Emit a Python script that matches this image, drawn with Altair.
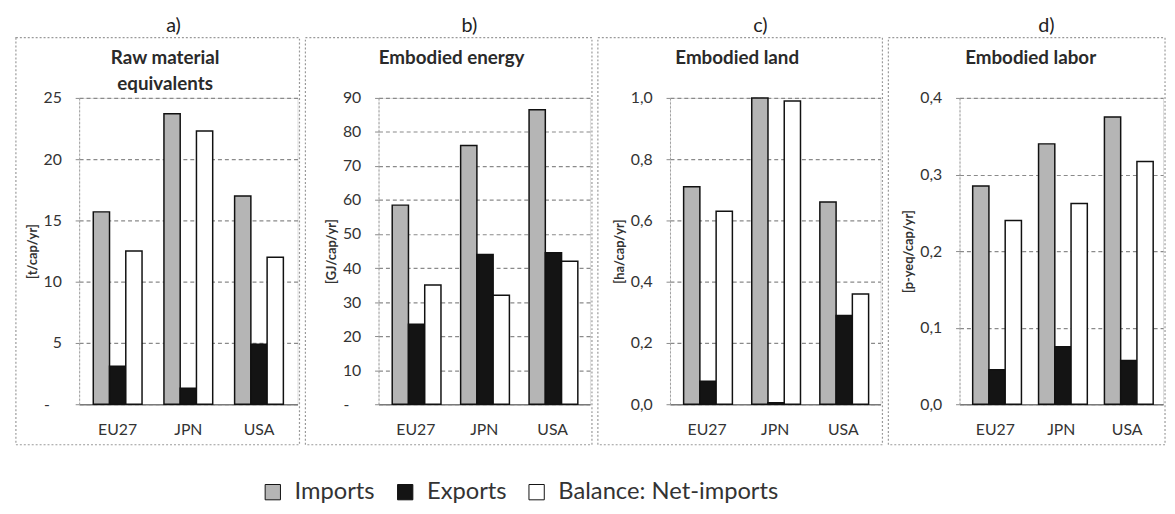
import altair as alt
import pandas as pd

regions = ["EU27", "JPN", "USA"]
series = ["Imports", "Exports", "Balance: Net-imports"]
series_colors = ["#b5b5b5", "#141414", "#ffffff"]

panel_letters = ["a)", "b)", "c)", "d)"]
panel_titles = ["Raw material\nequivalents", "Embodied energy", "Embodied land", "Embodied labor"]
units = ["[t/cap/yr]", "[GJ/cap/yr]", "[ha/cap/yr]", "[p-yeq/cap/yr]"]

rme_imports = [15.7, 23.7, 17.0]
rme_exports = [3.1, 1.3, 4.9]
rme_balance = [12.5, 22.3, 12.0]

energy_imports = [58.5, 76.0, 86.5]
energy_exports = [23.5, 44.0, 44.5]
energy_balance = [35.0, 32.0, 42.0]

land_imports = [0.71, 1.00, 0.66]
land_exports = [0.075, 0.005, 0.29]
land_balance = [0.63, 0.99, 0.36]

labor_imports = [0.285, 0.34, 0.375]
labor_exports = [0.045, 0.075, 0.057]
labor_balance = [0.24, 0.262, 0.317]

y_ticks_rme = [0, 5, 10, 15, 20, 25]
y_ticks_energy = [0, 10, 20, 30, 40, 50, 60, 70, 80, 90]
y_ticks_land = [0.0, 0.2, 0.4, 0.6, 0.8, 1.0]
y_ticks_labor = [0.0, 0.1, 0.2, 0.3, 0.4]

panel_data = [
    (rme_imports, rme_exports, rme_balance, y_ticks_rme),
    (energy_imports, energy_exports, energy_balance, y_ticks_energy),
    (land_imports, land_exports, land_balance, y_ticks_land),
    (labor_imports, labor_exports, labor_balance, y_ticks_labor),
]

# layout (pixels): plot width, left offset of frame, heading x
plot_w = [221, 214, 213, 206]
frame_left = [64, 74, 73, 72]
heading_x = [87, 74, 68, 72]
H = 310

FONT = "Lato"


def make_panel(i):
    imp, exp, bal, ticks = panel_data[i]
    rows = []
    for s, vals in zip(series, (imp, exp, bal)):
        for r, v in zip(regions, vals):
            rows.append({"region": r, "series": s, "value": v})
    df = pd.DataFrame(rows)
    W = plot_w[i]

    if i < 2:
        label_expr = "datum.value == 0 ? '-' : format(datum.value, 'd')"
        label_pad = {"condition": {"test": "datum.value == 0", "value": 26}, "value": 14}
    else:
        label_expr = "replace(format(datum.value, '.1f'), '.', ',')"
        label_pad = 14

    frame = alt.Chart(alt.Data(values=[{}])).mark_rect(
        fill="white", fillOpacity=0, stroke="#9a9a9a", strokeDash=[2, 2], strokeWidth=1.2
    ).encode(
        x=alt.value(-frame_left[i]), x2=alt.value(W + 2),
        y=alt.value(-61), y2=alt.value(H + 41),
    )

    bars = alt.Chart(df).mark_bar(stroke="#111111", strokeWidth=1.5).encode(
        x=alt.X(
            "region:N", sort=regions,
            scale=alt.Scale(paddingInner=0.31, paddingOuter=0.2),
            axis=alt.Axis(title=None, labelAngle=0, ticks=False, domain=True,
                          domainColor="#7a7a7a", domainWidth=1.5,
                          labelFontSize=16, labelPadding=18, labelColor="#333333",
                          labelFont=FONT, grid=False),
        ),
        xOffset=alt.XOffset("series:N", sort=series,
                            scale=alt.Scale(paddingInner=0, paddingOuter=0)),
        y=alt.Y(
            "value:Q",
            scale=alt.Scale(domain=[ticks[0], ticks[-1]], nice=False, zero=True),
            axis=alt.Axis(values=ticks, labelExpr=label_expr, title=units[i],
                          titleFont=FONT, titleFontSize=13, titleFontWeight="bold",
                          titleColor="#333333", titlePadding=4,
                          labelFont=FONT, labelFontSize=16, labelColor="#333333",
                          labelPadding=label_pad, tickSize=4, tickColor="#8a8a8a",
                          grid=True, gridDash=[4, 3], gridColor="#8a8a8a", gridWidth=1.2,
                          domain=True, domainDash=[2, 2], domainColor="#a0a0a0"),
        ),
        color=alt.Color(
            "series:N", sort=series,
            scale=alt.Scale(domain=series, range=series_colors),
            legend=alt.Legend(title=None, orient="none", direction="horizontal",
                              legendX=184, legendY=387,
                              symbolType="square", symbolSize=240,
                              symbolStrokeColor="#111111", symbolStrokeWidth=1,
                              labelFont=FONT, labelFontSize=24, labelColor="#333333",
                              labelOffset=10, columnPadding=18, labelLimit=400),
        ),
    )

    letter = alt.Chart(alt.Data(values=[{}])).mark_text(
        font=FONT, fontSize=20, color="#222222", baseline="middle", align="center"
    ).encode(x=alt.value(W / 2 - 15), y=alt.value(-73), text=alt.value(panel_letters[i]))

    heading = alt.Chart(alt.Data(values=[{}])).mark_text(
        font=FONT, fontSize=19, fontWeight="bold", color="#2a2a2a",
        baseline="middle", align="center", lineBreak="\n", lineHeight=26
    ).encode(x=alt.value(heading_x[i]), y=alt.value(-40), text=alt.value(panel_titles[i]))

    return alt.layer(frame, bars, letter, heading).properties(width=W, height=H)


chart = alt.hconcat(*[make_panel(i) for i in range(4)], spacing=2).resolve_scale(
    x="independent", y="independent", color="shared"
).properties(
    padding={"left": 6, "top": 4, "right": 0, "bottom": 0}
).configure_view(stroke=None).configure(background="white")

chart.save("out.html", embed_options={"renderer": "svg", "actions": False})
